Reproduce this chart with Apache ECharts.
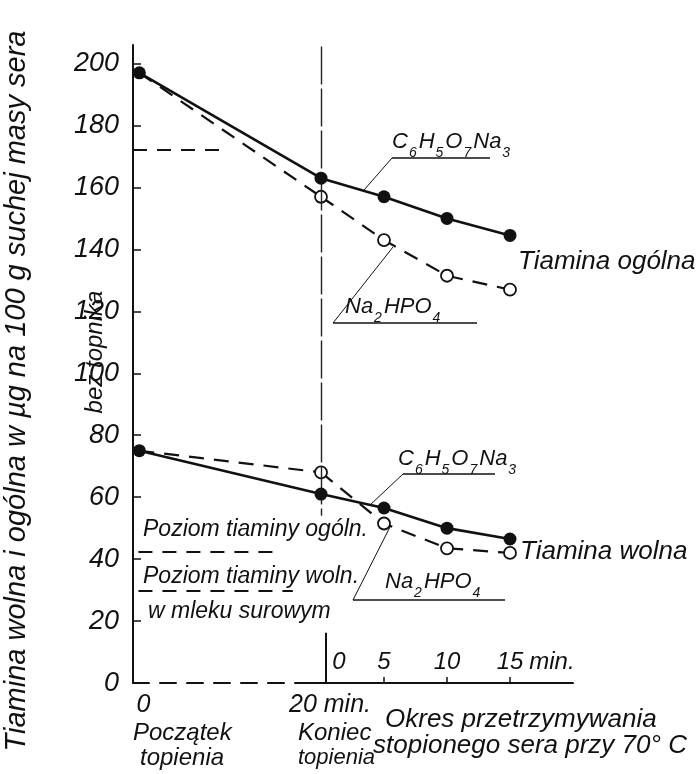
<!DOCTYPE html>
<html>
<head>
<meta charset="utf-8">
<script src="https://cdn.jsdelivr.net/npm/echarts@6/dist/echarts.min.js"></script>
<style>html,body{margin:0;padding:0;background:#fff}#c{width:700px;height:774px}</style>
</head>
<body>
<div id="c"></div>
<script>
// ---- data ----
const meltTime = [0, 20];              // min of melting
const holdTime = [0, 5, 10, 15];       // min of holding at 70 C
const totalCitrateMelt = [197, 163];
const totalPhosMelt = [197, 157];
const freeCitrateMelt = [75, 61];
const freePhosMelt = [75, 68];
const totalCitrateHold = [163, 157, 150, 144.5];
const totalPhosHold = [157, 143, 131.5, 127];
const freeCitrateHold = [61, 56.5, 50, 46.5];
const freePhosHold = [68, 51.5, 43.5, 42];
const yTicks = [0, 20, 40, 60, 80, 100, 120, 140, 160, 180, 200];
const meltTicks = [0, 20];
const meltTickLabels = ['0', '20 min.'];
const holdTicks = [0, 5, 10, 15];
const holdTickLabels = ['0', '5', '10', '15'];
const levelTotalTop = 172.3;
const levelTotal = 42.4;
const levelFree = 29.8;

const FF = '"Liberation Sans", "DejaVu Sans", sans-serif';
const INK = '#111';

function pairs(xs, ys) { return xs.map((x, i) => [x, ys[i]]); }

const chart = echarts.init(document.getElementById('c'), null, {renderer: 'canvas'});

function solidSeries(xi, data, firstOnly) {
  return {
    type: 'line', xAxisIndex: xi, yAxisIndex: xi, data: data, z: 5,
    symbol: firstOnly ? (v) => (v[0] === 0 ? 'circle' : 'none') : 'circle',
    symbolSize: 13, showAllSymbol: true,
    lineStyle: {color: INK, width: 2.6, type: 'solid'},
    itemStyle: {color: INK, borderColor: INK, borderWidth: 0},
    animation: false, silent: true
  };
}
function dashedSeries(xi, data, firstOnly) {
  return {
    type: 'line', xAxisIndex: xi, yAxisIndex: xi, data: data, z: 4,
    symbol: firstOnly ? 'none' : 'circle',
    symbolSize: 12, showAllSymbol: true,
    lineStyle: {color: INK, width: 2.2, type: [15, 10]},
    itemStyle: {color: '#fff', borderColor: INK, borderWidth: 1.8},
    animation: false, silent: true
  };
}

function txt(text, x, y, size, extra) {
  return Object.assign({
    type: 'text', x: x, y: y, silent: true,
    style: {text: text, fill: INK, font: 'italic ' + size + 'px ' + FF,
            textAlign: 'left', textVerticalAlign: 'middle'}
  }, extra || {});
}
function rtxt(text, x, y, size) {
  return {
    type: 'text', x: x, y: y, silent: true, rotation: Math.PI / 2,
    style: {text: text, fill: INK, font: 'italic ' + size + 'px ' + FF,
            textAlign: 'center', textVerticalAlign: 'middle'}
  };
}
function formula(parts, x, y) {
  const s = parts.map(p => '{m|' + p[0] + '}' + (p[1] ? '{s|' + p[1] + '}' : '')).join('');
  return {
    type: 'text', x: x, y: y, silent: true,
    style: {
      text: s, fill: INK, textAlign: 'left', textVerticalAlign: 'middle',
      rich: {
        m: {fontSize: 22, fontStyle: 'italic', fontFamily: FF, lineHeight: 24, verticalAlign: 'top', fill: INK},
        s: {fontSize: 14, fontStyle: 'italic', fontFamily: FF, lineHeight: 14, verticalAlign: 'top', padding: [15, 2, 0, 1], fill: INK}
      }
    }
  };
}
function seg(x1, y1, x2, y2, w) {
  return {type: 'line', silent: true, shape: {x1, y1, x2, y2}, style: {stroke: INK, lineWidth: w || 1.2}};
}

const refStyle = {color: INK, width: 1.8, type: [14, 10]};

const option = {
  backgroundColor: '#fff',
  animation: false,
  grid: [
    {left: 133, top: 45, width: 188, height: 638, containLabel: false},
    {left: 321, top: 45, width: 252, height: 638, containLabel: false}
  ],
  xAxis: [
    {
      gridIndex: 0, type: 'value', min: -0.7, max: 20,
      axisLine: {show: true, onZero: false, lineStyle: {color: INK, width: 2, type: [16, 11]}},
      axisTick: {show: false},
      splitLine: {show: false},
      axisLabel: {
        customValues: meltTicks, margin: 10, color: INK, fontSize: 25, fontStyle: 'italic', fontFamily: FF,
        formatter: (v) => { const i = meltTicks.indexOf(v); const t = i < 0 ? '' : meltTickLabels[i];
          return i === 0 ? '{a|' + t + '}' : '{b|' + t + '}'; },
        rich: {a: {fontSize: 25, fontStyle: 'italic', fontFamily: FF, padding: [0, 0, 0, 8], color: INK},
               b: {fontSize: 25, fontStyle: 'italic', fontFamily: FF, padding: [0, 0, 0, 18], color: INK}}
      }
    },
    {
      gridIndex: 1, type: 'value', min: 0, max: 20,
      axisLine: {show: true, onZero: false, lineStyle: {color: INK, width: 2}},
      axisTick: {show: true, inside: true, length: 6, customValues: [5, 10, 15], lineStyle: {color: INK, width: 1.5}},
      splitLine: {show: false},
      name: 'min.', nameLocation: 'end', nameGap: -2,
      nameTextStyle: {color: INK, fontSize: 24, fontStyle: 'italic', fontFamily: FF, align: 'right', verticalAlign: 'bottom', padding: [0, 0, 9, 0]},
      axisLabel: {
        inside: true, customValues: holdTicks, margin: 9, color: INK, fontSize: 24, fontStyle: 'italic', fontFamily: FF,
        formatter: (v) => { const i = holdTicks.indexOf(v); const t = i < 0 ? '' : holdTickLabels[i];
          return i === 0 ? '{z|' + t + '}' : t; },
        rich: {z: {fontSize: 24, fontStyle: 'italic', fontFamily: FF, padding: [0, 0, 0, 36], color: INK}}
      }
    }
  ],
  yAxis: [
    {
      gridIndex: 0, type: 'value', min: 0, max: 206,
      axisLine: {show: true, onZero: false, lineStyle: {color: INK, width: 2}},
      axisTick: {show: true, inside: true, length: 8, customValues: yTicks, lineStyle: {color: INK, width: 1.5}},
      splitLine: {show: false},
      axisLabel: {customValues: yTicks, margin: 14, color: INK, fontSize: 27, fontStyle: 'italic', fontFamily: FF,
        formatter: (v) => (v % 20 === 0 && v <= 200 ? String(v) : '')}
    },
    {
      gridIndex: 1, type: 'value', min: 0, max: 206, show: false,
      axisLine: {show: false}, axisTick: {show: false}, axisLabel: {show: false}, splitLine: {show: false}
    }
  ],
  series: [
    Object.assign(dashedSeries(0, pairs(meltTime, totalPhosMelt), true), {
      markLine: {silent: true, symbol: 'none', label: {show: false}, animation: false,
        data: [
          [{coord: [-0.7, levelTotalTop], lineStyle: refStyle}, {coord: [9.2, levelTotalTop]}],
          [{coord: [-0.1, levelTotal], lineStyle: refStyle}, {coord: [15.1, levelTotal]}],
          [{coord: [-0.1, levelFree], lineStyle: refStyle}, {coord: [16.9, levelFree]}],
          [{coord: [18, 0], lineStyle: {color: INK, width: 2, type: 'solid'}}, {coord: [20, 0]}]
        ]}
    }),
    dashedSeries(0, pairs(meltTime, freePhosMelt), true),
    solidSeries(0, pairs(meltTime, totalCitrateMelt), true),
    solidSeries(0, pairs(meltTime, freeCitrateMelt), true),
    Object.assign(dashedSeries(1, pairs(holdTime, totalPhosHold), false), {
      markLine: {silent: true, symbol: 'none', label: {show: false}, animation: false,
        data: [
          [{coord: [0, 205.5], lineStyle: {color: '#222', width: 1.4, type: [38, 4]}}, {coord: [0, 54]}],
          [{coord: [0.4, 16.2], lineStyle: {color: INK, width: 2, type: 'solid'}}, {coord: [0.4, 0]}]
        ]}
    }),
    dashedSeries(1, pairs(holdTime, freePhosHold), false),
    solidSeries(1, pairs(holdTime, totalCitrateHold), false),
    solidSeries(1, pairs(holdTime, freeCitrateHold), false)
  ],
  graphic: [
    rtxt('Tiamina wolna i ogólna w µg na 100 g suchej masy sera', 17, 391, 29),
    rtxt('bez topnika', 95, 352, 24),
    // upper annotations
    formula([['C', '6'], ['H', '5'], ['O', '7'], ['Na', '3']], 392, 143),
    seg(392, 158, 490, 158, 1.6), seg(392, 158, 364, 190, 1),
    formula([['Na', '2'], ['HPO', '4']], 345, 308),
    seg(333, 323, 477, 323, 1.6), seg(333, 323, 393, 247, 1),
    txt('Tiamina ogólna', 518, 262, 26),
    // lower annotations
    formula([['C', '6'], ['H', '5'], ['O', '7'], ['Na', '3']], 398, 460),
    seg(403, 474, 495, 474, 1.6), seg(403, 474, 370, 505, 1),
    formula([['Na', '2'], ['HPO', '4']], 385, 583),
    seg(353, 600, 505, 600, 1.6), seg(353, 600, 390, 527, 1),
    txt('Tiamina wolna', 520, 552, 26),
    txt('Poziom tiaminy ogóln.', 143, 530, 23),
    txt('Poziom tiaminy woln.', 143, 577, 23),
    txt('w mleku surowym', 148, 612, 23),
    // bottom captions
    txt('Początek', 133, 733, 24),
    txt('topienia', 140, 758, 24),
    txt('Koniec', 298, 733, 24),
    txt('topienia', 298, 758, 22),
    txt('Okres przetrzymywania', 385, 720, 26),
    txt('stopionego sera przy 70° C', 373, 746, 26)
  ]
};
chart.setOption(option);
</script>
</body>
</html>
